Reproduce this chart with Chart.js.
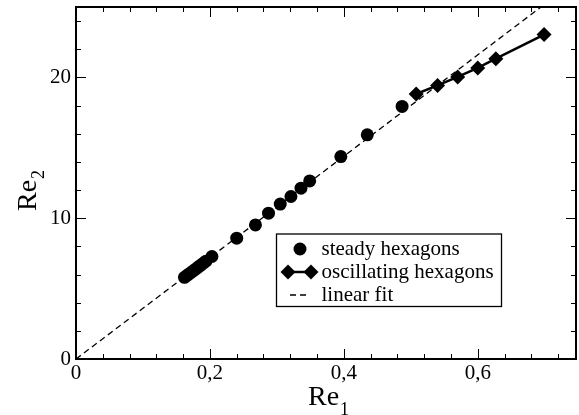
<!DOCTYPE html>
<html>
<head>
<meta charset="utf-8">
<script src="https://cdn.jsdelivr.net/npm/chart.js@4"></script>
<style>
html, body { margin: 0; padding: 0; background: #fff; }
</style>
</head>
<body>
<canvas id="chart" width="579" height="415"></canvas>
<script>
// values
const steadyX = [0.162, 0.166, 0.170, 0.174, 0.178, 0.182, 0.186, 0.190, 0.194, 0.203, 0.240, 0.268, 0.2875, 0.305, 0.321, 0.336, 0.349, 0.3955, 0.435, 0.487];
const steadyY = [5.80, 5.94, 6.08, 6.22, 6.36, 6.51, 6.65, 6.80, 6.95, 7.28, 8.58, 9.52, 10.36, 11.0, 11.54, 12.13, 12.65, 14.38, 15.92, 17.94];
const oscX = [0.508, 0.540, 0.570, 0.600, 0.627, 0.699];
const oscY = [18.82, 19.43, 20.03, 20.67, 21.33, 23.04];
const fitX = [0, 0.75];
const fitY = [0, 27.0];
const xMajor = [0, 0.2, 0.4, 0.6];
const yMajor = [0, 10, 20];
const legendLabels = ['steady hexagons', 'oscillating hexagons', 'linear fit'];

function pts(xs, ys) {
  return xs.map((x, i) => ({ x: x, y: ys[i] }));
}
function isMajor(v, list) {
  return list.some(m => Math.abs(v - m) < 1e-6);
}
const serif = 'Liberation Serif';

const frame = {
  id: 'frame',
  afterDraw(chart) {
    const ctx = chart.ctx;
    const a = chart.chartArea;
    const xs = chart.scales.x, ys = chart.scales.y;
    ctx.save();
    ctx.strokeStyle = '#000';
    ctx.fillStyle = '#000';
    ctx.lineWidth = 1;
    ctx.beginPath();
    xs.ticks.forEach(t => {
      const p = Math.round(xs.getPixelForValue(t.value)) + 0.5;
      const len = isMajor(t.value, xMajor) ? 10 : 5;
      ctx.moveTo(p, a.bottom); ctx.lineTo(p, a.bottom - len);
      ctx.moveTo(p, a.top); ctx.lineTo(p, a.top + len);
    });
    ys.ticks.forEach(t => {
      const p = Math.round(ys.getPixelForValue(t.value)) + 0.5;
      const len = isMajor(t.value, yMajor) ? 10 : 5;
      ctx.moveTo(a.left, p); ctx.lineTo(a.left + len, p);
      ctx.moveTo(a.right, p); ctx.lineTo(a.right - len, p);
    });
    ctx.stroke();
    ctx.lineWidth = 2;
    ctx.strokeRect(a.left, a.top, a.right - a.left, a.bottom - a.top);

    // legend box
    ctx.lineWidth = 1.3;
    ctx.fillStyle = '#fff';
    ctx.fillRect(276.5, 234, 225, 72.5);
    ctx.strokeRect(276.5, 234, 225, 72.5);
    ctx.fillStyle = '#000';
    ctx.beginPath();
    ctx.arc(300, 249, 6.5, 0, Math.PI * 2);
    ctx.fill();
    ctx.lineWidth = 2.5;
    ctx.beginPath();
    ctx.moveTo(288, 272); ctx.lineTo(311, 272);
    ctx.stroke();
    [288, 311].forEach(cx => {
      ctx.beginPath();
      ctx.moveTo(cx, 272 - 7.5); ctx.lineTo(cx + 7.5, 272);
      ctx.lineTo(cx, 272 + 7.5); ctx.lineTo(cx - 7.5, 272);
      ctx.closePath();
      ctx.fill();
    });
    ctx.lineWidth = 1.3;
    ctx.setLineDash([6, 4]);
    ctx.beginPath();
    ctx.moveTo(290, 295); ctx.lineTo(306, 295);
    ctx.stroke();
    ctx.setLineDash([]);
    ctx.font = '21px "' + serif + '"';
    ctx.textBaseline = 'middle';
    ctx.textAlign = 'left';
    legendLabels.forEach((s, i) => ctx.fillText(s, 321.5, 249 + i * 23));

    // axis titles
    ctx.textBaseline = 'alphabetic';
    ctx.font = '28px "' + serif + '"';
    let w = ctx.measureText('Re').width;
    ctx.fillText('Re', 308, 405);
    ctx.font = '18px "' + serif + '"';
    ctx.fillText('1', 308 + w + 1, 415);

    ctx.translate(36, 211);
    ctx.rotate(-Math.PI / 2);
    ctx.font = '28px "' + serif + '"';
    w = ctx.measureText('Re').width;
    ctx.fillText('Re', 0, 0);
    ctx.font = '18px "' + serif + '"';
    ctx.fillText('2', w + 1, 8);
    ctx.restore();
  }
};

new Chart(document.getElementById('chart'), {
  type: 'scatter',
  data: {
    datasets: [
      {
        label: legendLabels[0],
        data: pts(steadyX, steadyY),
        pointStyle: 'circle',
        pointRadius: 6.5,
        borderWidth: 0,
        backgroundColor: '#000',
        showLine: false
      },
      {
        label: legendLabels[1],
        data: pts(oscX, oscY),
        pointStyle: 'rectRot',
        pointRadius: 7.5,
        pointBorderWidth: 0,
        backgroundColor: '#000',
        borderColor: '#000',
        borderWidth: 2.5,
        showLine: true
      },
      {
        label: legendLabels[2],
        data: pts(fitX, fitY),
        pointRadius: 0,
        borderColor: '#000',
        borderWidth: 1.3,
        borderDash: [6, 4],
        showLine: true
      }
    ]
  },
  options: {
    responsive: false,
    animation: false,
    events: [],
    layout: { autoPadding: false, padding: { top: 7, right: 3, left: 0, bottom: 0 } },
    plugins: { legend: { display: false }, tooltip: { enabled: false } },
    scales: {
      x: {
        type: 'linear',
        min: 0,
        max: 0.7467,
        grid: { display: false, drawTicks: false },
        border: { display: false },
        afterFit: s => { s.height = 56; s.paddingLeft = 0; s.paddingRight = 0; },
        ticks: {
          stepSize: 0.04,
          includeBounds: false,
          autoSkip: false,
          maxRotation: 0,
          padding: 2,
          color: '#000',
          font: { family: serif, size: 21 },
          callback: v => isMajor(v, xMajor) ? (Math.abs(v) < 1e-6 ? '0' : v.toFixed(1).replace('.', ',')) : ''
        }
      },
      y: {
        type: 'linear',
        min: 0,
        max: 25,
        grid: { display: false, drawTicks: false },
        border: { display: false },
        afterFit: s => { s.width = 76; s.paddingTop = 0; s.paddingBottom = 0; },
        ticks: {
          stepSize: 2,
          includeBounds: false,
          autoSkip: false,
          padding: 5,
          color: '#000',
          font: { family: serif, size: 21 },
          callback: v => isMajor(v, yMajor) ? String(v) : ''
        }
      }
    }
  },
  plugins: [frame]
});
</script>
</body>
</html>
